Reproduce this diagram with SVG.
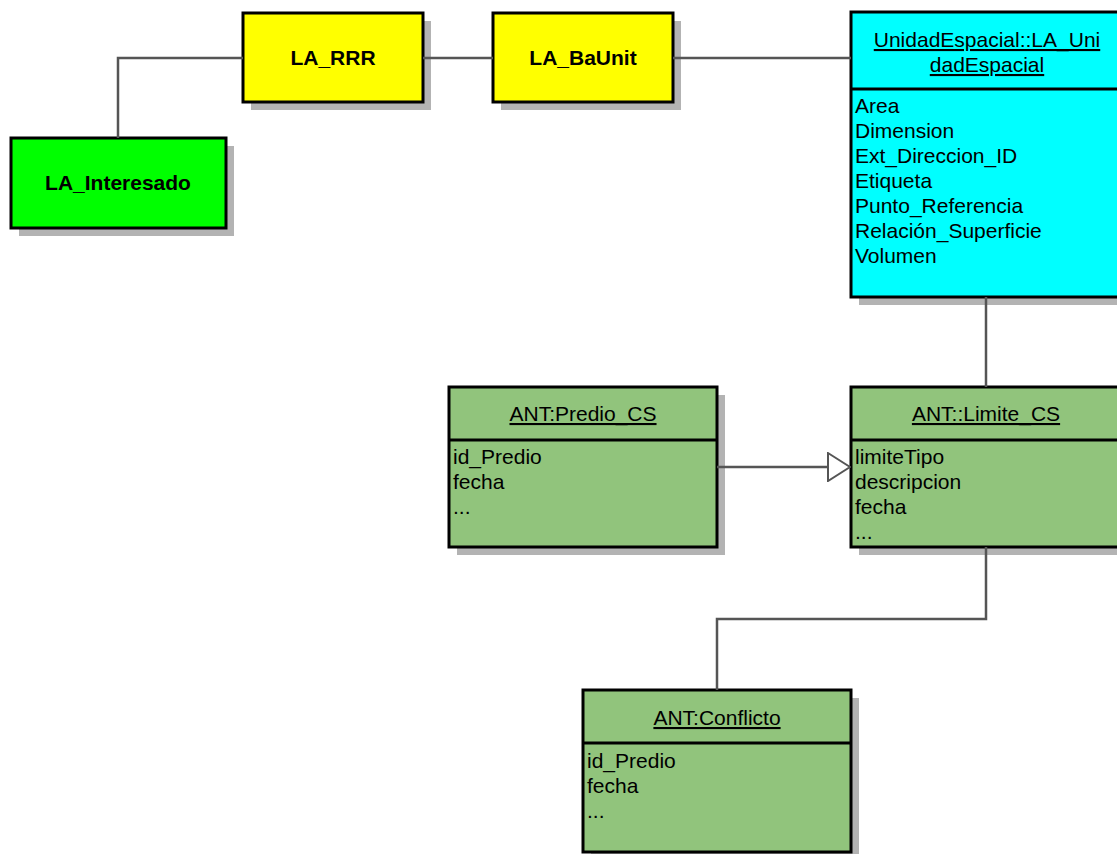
<svg xmlns="http://www.w3.org/2000/svg" width="1117" height="854" viewBox="0 0 1117 854">
<style>
.shadow{fill:#b3b3b3}
.box{stroke:#000;stroke-width:3}
.yellow{fill:#ffff00}
.lime{fill:#00ff00}
.cyan{fill:#00ffff}
.ant{fill:#91c47c}
.div{stroke:#000;stroke-width:3}
.bold{font-family:"Liberation Sans",Arial,sans-serif;font-weight:bold;font-size:21px;text-anchor:middle;fill:#000}
.head{font-family:"Liberation Sans",Arial,sans-serif;font-size:21px;text-anchor:middle;fill:#000;text-decoration:underline}
.attr{font-family:"Liberation Sans",Arial,sans-serif;font-size:21px;fill:#000}
.conn{fill:none;stroke:#555;stroke-width:2.5}
</style>
<defs>
<marker id="gen" viewBox="0 0 24 30" refX="23" refY="15" markerWidth="24" markerHeight="30" markerUnits="userSpaceOnUse" orient="auto">
<path d="M1,1 L23,15 L1,29 Z" fill="#fff" stroke="#555" stroke-width="2"/>
</marker>
</defs>
<g id="LA_RRR">
<rect class="shadow" x="251" y="21" width="180" height="89"/>
<rect class="box yellow" x="243" y="13" width="180" height="89"/>
<text class="bold" x="333" y="65">LA_RRR</text>
</g>
<g id="LA_BaUnit">
<rect class="shadow" x="501" y="21" width="180" height="89"/>
<rect class="box yellow" x="493" y="13" width="180" height="89"/>
<text class="bold" x="583" y="65">LA_BaUnit</text>
</g>
<g id="LA_Interesado">
<rect class="shadow" x="19" y="146" width="215" height="90"/>
<rect class="box lime" x="11" y="138" width="215" height="90"/>
<text class="bold" x="118" y="190">LA_Interesado</text>
</g>
<g id="LA_UnidadEspacial">
<rect class="shadow" x="859" y="20" width="272" height="285"/>
<rect class="box cyan" x="851" y="12" width="272" height="285"/>
<line class="div" x1="851" y1="89" x2="1123" y2="89"/>
<text class="head" x="987" y="47">UnidadEspacial::LA_Uni</text>
<text class="head" x="987" y="72">dadEspacial</text>
<text class="attr" x="855" y="113">Area</text>
<text class="attr" x="855" y="138">Dimension</text>
<text class="attr" x="855" y="163">Ext_Direccion_ID</text>
<text class="attr" x="855" y="188">Etiqueta</text>
<text class="attr" x="855" y="213">Punto_Referencia</text>
<text class="attr" x="855" y="238">Relación_Superficie</text>
<text class="attr" x="855" y="263">Volumen</text>
</g>
<g id="Predio_CS">
<rect class="shadow" x="457" y="395" width="268" height="160"/>
<rect class="box ant" x="449" y="387" width="268" height="160"/>
<line class="div" x1="449" y1="440" x2="717" y2="440"/>
<text class="head" x="583" y="421">ANT:Predio_CS</text>
<text class="attr" x="453" y="464">id_Predio</text>
<text class="attr" x="453" y="489">fecha</text>
<text class="attr" x="453" y="514">...</text>
</g>
<g id="Limite_CS">
<rect class="shadow" x="859" y="395" width="268" height="160"/>
<rect class="box ant" x="851" y="387" width="270" height="160"/>
<line class="div" x1="851" y1="440" x2="1121" y2="440"/>
<text class="head" x="986" y="421">ANT::Limite_CS</text>
<text class="attr" x="855" y="464">limiteTipo</text>
<text class="attr" x="855" y="489">descripcion</text>
<text class="attr" x="855" y="514">fecha</text>
<text class="attr" x="855" y="539">...</text>
</g>
<g id="Conflicto">
<rect class="shadow" x="591" y="698" width="268" height="162"/>
<rect class="box ant" x="583" y="690" width="268" height="162"/>
<line class="div" x1="583" y1="743" x2="851" y2="743"/>
<text class="head" x="717" y="725">ANT:Conflicto</text>
<text class="attr" x="587" y="768">id_Predio</text>
<text class="attr" x="587" y="793">fecha</text>
<text class="attr" x="587" y="818">...</text>
</g>
<g id="connectors">
<path class="conn" d="M118,138 V58 H243"/>
<path class="conn" d="M423,58 H493"/>
<path class="conn" d="M673,58 H851"/>
<path class="conn" d="M986,297 V387"/>
<path class="conn" d="M717,467 H850" marker-end="url(#gen)"/>
<path class="conn" d="M986,547 V619 H717 V690"/>
</g>
</svg>
